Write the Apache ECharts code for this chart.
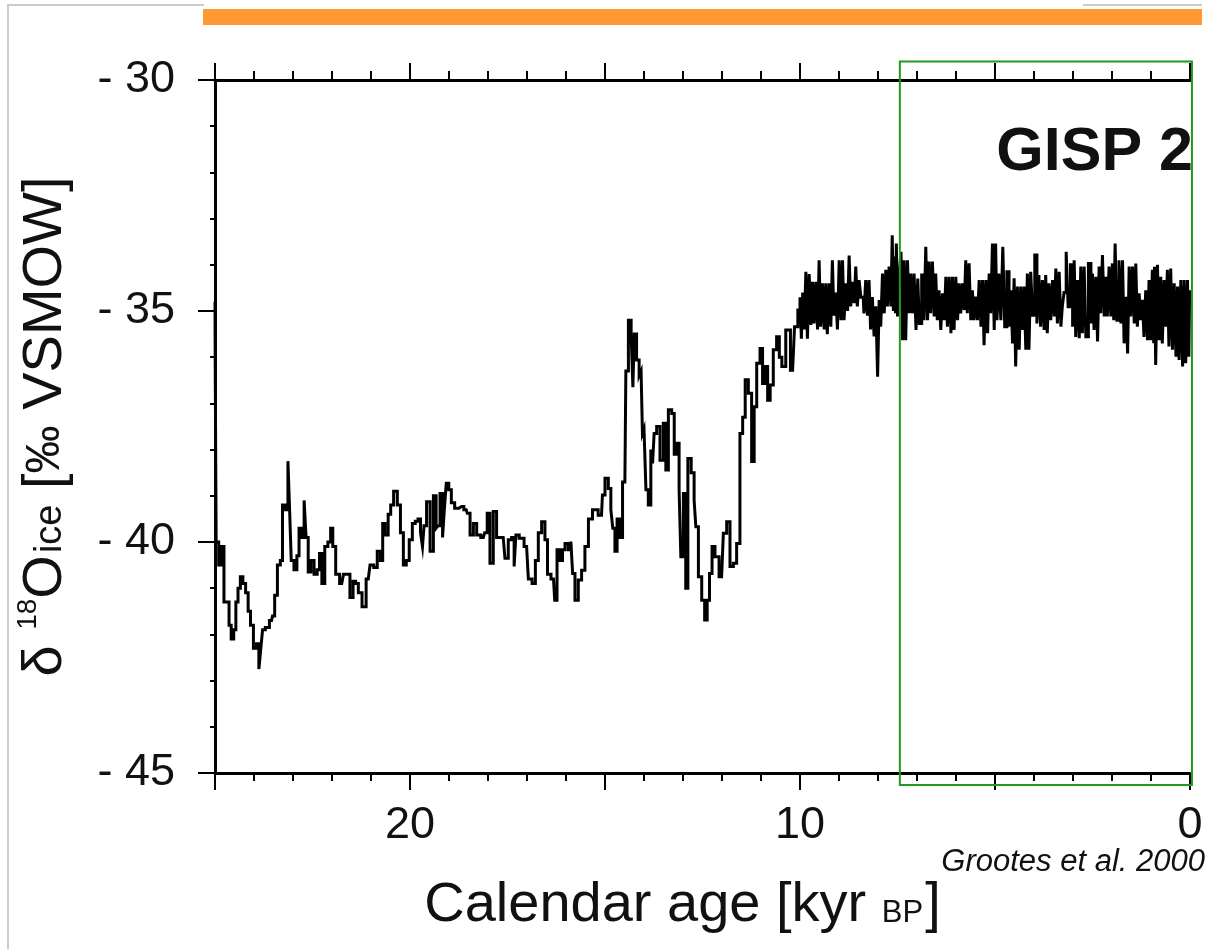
<!DOCTYPE html>
<html>
<head>
<meta charset="utf-8">
<title>GISP 2 δ18O</title>
<script src="https://cdn.jsdelivr.net/npm/echarts@6/dist/echarts.min.js"></script>
<style>
  html, body { margin: 0; padding: 0; background: #fff; }
  #chart { width: 1210px; height: 949px; }
</style>
</head>
<body>
<div id="chart"></div>
<script>
// axis ranges / ticks
const xMin = 0, xMax = 25;
const xLabelValues = [20, 10, 0];
const yMin = -45, yMax = -30;

// [age kyr BP, d18O permil]
const lastGlacial = [
  [25.00, -34.8], [24.99, -36.1], [24.95, -40.0], [24.86, -40.5], [24.80, -40.1],
  [24.74, -41.3], [24.66, -41.3], [24.62, -41.8], [24.55, -42.1], [24.49, -41.9],
  [24.44, -41.3], [24.38, -41.0], [24.32, -40.75], [24.25, -40.9], [24.18, -41.1],
  [24.12, -41.5], [24.06, -41.8], [23.97, -42.3], [23.90, -42.2], [23.85, -42.75],
  [23.80, -42.3], [23.76, -41.9], [23.66, -41.85], [23.55, -41.7], [23.50, -41.6],
  [23.44, -41.15], [23.36, -40.5], [23.29, -40.4], [23.25, -39.2], [23.16, -39.3],
  [23.10, -38.25], [23.07, -39.35], [23.02, -40.4], [22.93, -40.6], [22.87, -40.3],
  [22.82, -39.7], [22.74, -39.9], [22.69, -39.1], [22.64, -39.9], [22.58, -40.65],
  [22.50, -40.4], [22.42, -40.7], [22.34, -40.6], [22.30, -40.25], [22.22, -40.9],
  [22.15, -40.1], [22.06, -40.0], [22.01, -39.7], [21.95, -40.1], [21.86, -40.7],
  [21.75, -40.9], [21.66, -40.7], [21.58, -40.7], [21.50, -41.2], [21.42, -40.85],
  [21.37, -40.9], [21.28, -41.1], [21.18, -41.4], [21.07, -40.8], [20.98, -40.5],
  [20.88, -40.55], [20.80, -40.2], [20.72, -40.4], [20.68, -39.6], [20.60, -39.85],
  [20.52, -39.4], [20.47, -39.2], [20.37, -38.9], [20.28, -39.2], [20.21, -39.8],
  [20.13, -40.5], [20.06, -40.4], [19.98, -39.95], [19.90, -39.6], [19.83, -39.55],
  [19.76, -39.5], [19.70, -39.8], [19.66, -40.1], [19.62, -39.65], [19.53, -39.13],
  [19.44, -40.2], [19.36, -39.0], [19.30, -39.7], [19.27, -39.65], [19.19, -38.95],
  [19.14, -39.9], [19.10, -39.3], [19.04, -38.73], [18.97, -38.87], [18.91, -39.15],
  [18.80, -39.27], [18.68, -39.23], [18.56, -39.3], [18.50, -39.38], [18.42, -39.85],
  [18.33, -39.6], [18.25, -39.85], [18.12, -39.9], [18.05, -39.8], [17.99, -39.38],
  [17.91, -40.46], [17.82, -39.34], [17.74, -39.9], [17.61, -39.9], [17.52, -40.35],
  [17.44, -39.95], [17.35, -39.9], [17.31, -40.53], [17.26, -39.85], [17.14, -39.92],
  [17.01, -40.1], [16.92, -40.8], [16.82, -40.9], [16.75, -40.4], [16.67, -39.8],
  [16.58, -39.56], [16.50, -39.95], [16.45, -40.7], [16.32, -40.8], [16.26, -41.26],
  [16.20, -40.17], [16.11, -40.4], [16.07, -40.17], [15.98, -40.03], [15.90, -40.17],
  [15.85, -39.99], [15.81, -40.68], [15.73, -41.26], [15.64, -40.82], [15.56, -40.61],
  [15.47, -40.1], [15.38, -39.5], [15.26, -39.3], [15.09, -39.42], [15.04, -38.98],
  [14.96, -38.62], [14.87, -38.84], [14.83, -39.3], [14.77, -39.7], [14.72, -40.2]
];

const deglaciation = [
  [14.66, -39.5], [14.57, -39.9], [14.53, -38.7], [14.49, -38.7], [14.44, -36.3],
  [14.36, -35.2], [14.30, -35.5], [14.27, -36.65], [14.23, -35.5], [14.15, -36.06],
  [14.10, -36.4], [14.05, -36.3], [14.03, -37.65], [13.97, -37.55], [13.93, -38.87],
  [13.85, -39.2], [13.80, -38.0], [13.76, -38.3], [13.72, -37.65], [13.63, -37.5],
  [13.55, -38.23], [13.46, -37.43], [13.42, -38.44], [13.33, -37.14], [13.25, -37.22],
  [13.20, -38.1], [13.12, -37.86], [13.08, -38.87], [13.03, -40.32], [12.95, -38.95],
  [12.91, -41.0], [12.84, -38.19], [12.74, -38.5], [12.69, -39.1], [12.65, -39.67],
  [12.56, -40.75], [12.48, -41.26], [12.41, -41.69], [12.35, -41.26], [12.29, -40.68],
  [12.22, -40.1], [12.14, -40.32], [12.01, -40.75], [11.92, -39.81], [11.84, -39.56],
  [11.75, -40.53], [11.67, -40.46], [11.58, -40.03], [11.50, -37.65], [11.44, -37.3],
  [11.37, -36.49], [11.28, -36.78], [11.20, -38.26], [11.15, -37.07], [11.07, -36.13],
  [10.98, -35.81], [10.94, -36.57], [10.86, -36.2], [10.80, -36.93], [10.73, -36.6],
  [10.64, -35.84], [10.56, -35.56], [10.50, -36.0], [10.43, -36.2], [10.30, -35.41],
  [10.19, -36.28], [10.09, -35.34], [10.02, -34.98]
];

const earlyHolocene = [
  [9.98, -34.7], [9.95, -35.6], [9.91, -34.6], [9.87, -35.4], [9.83, -34.15], [9.79, -35.6],
  [9.74, -34.2], [9.70, -35.3], [9.66, -34.37], [9.62, -35.27], [9.57, -34.37], [9.53, -35.4],
  [9.49, -33.9], [9.45, -35.34], [9.40, -34.4], [9.36, -35.4], [9.32, -34.4], [9.28, -35.5],
  [9.23, -34.4], [9.19, -35.34], [9.15, -33.9], [9.11, -35.1], [9.06, -34.6], [9.02, -35.4],
  [8.97, -33.9], [8.93, -35.2], [8.89, -33.9], [8.85, -35.2], [8.80, -34.4], [8.76, -35.0],
  [8.72, -33.8], [8.68, -34.9], [8.63, -34.37], [8.59, -34.83], [8.55, -34.04], [8.51, -34.9],
  [8.46, -34.33], [8.42, -34.7], [8.38, -34.7], [8.34, -35.05], [8.29, -34.33], [8.25, -35.1],
  [8.21, -34.33], [8.17, -35.4], [8.12, -34.7], [8.08, -35.55], [8.03, -34.9], [7.99, -36.42],
  [7.95, -34.76], [7.91, -35.34], [7.86, -34.19], [7.82, -35.05], [7.78, -34.11], [7.74, -34.9],
  [7.69, -34.04], [7.65, -34.9], [7.62, -33.36], [7.59, -35.0], [7.56, -33.82], [7.54, -35.05],
  [7.52, -33.54], [7.48, -35.12], [7.43, -34.2], [7.39, -33.72], [7.35, -35.63], [7.31, -33.9],
  [7.27, -35.63], [7.22, -33.9], [7.18, -35.05], [7.14, -34.19], [7.10, -35.05], [7.05, -34.19],
  [7.00, -35.41], [6.96, -34.3], [6.92, -35.27], [6.84, -34.22], [6.80, -35.2], [6.75, -33.61],
  [6.71, -35.2], [6.67, -33.93], [6.63, -35.05], [6.58, -33.93], [6.54, -35.12], [6.50, -34.19],
  [6.46, -35.2], [6.41, -34.55], [6.37, -35.41], [6.32, -34.62], [6.28, -35.2], [6.24, -34.26],
  [6.20, -35.34], [6.15, -34.26], [6.11, -35.48], [6.07, -34.26], [6.03, -35.41], [5.98, -34.26],
  [5.94, -35.2], [5.90, -34.4], [5.86, -35.05], [5.81, -34.4], [5.77, -34.98], [5.73, -33.9],
  [5.69, -35.05], [5.64, -33.97], [5.60, -35.2], [5.56, -34.55], [5.52, -35.2], [5.47, -34.69],
  [5.43, -35.2], [5.38, -34.33], [5.34, -35.34], [5.30, -34.33], [5.26, -35.74], [5.21, -34.33],
  [5.17, -35.48], [5.13, -34.19], [5.09, -35.05], [5.04, -33.54], [5.00, -35.41]
];

const lateHolocene = [
  [4.97, -33.54], [4.93, -35.2], [4.87, -34.19], [4.83, -35.2], [4.77, -33.61], [4.73, -35.34],
  [4.66, -34.15], [4.62, -35.34], [4.57, -34.55], [4.53, -35.7], [4.49, -34.29], [4.45, -36.2],
  [4.40, -34.47], [4.36, -35.84], [4.32, -34.47], [4.28, -35.41], [4.23, -34.47], [4.19, -35.84],
  [4.15, -34.19], [4.11, -35.84], [4.06, -34.15], [4.01, -35.09], [3.95, -33.79], [3.90, -35.27],
  [3.85, -34.22], [3.81, -35.34], [3.76, -34.33], [3.72, -35.41], [3.68, -34.22], [3.64, -35.48],
  [3.59, -34.4], [3.55, -35.2], [3.50, -34.33], [3.46, -35.12], [3.42, -34.08], [3.38, -35.27],
  [3.33, -34.15], [3.29, -35.34], [3.26, -34.91], [3.20, -34.6], [3.15, -33.72], [3.10, -34.91],
  [3.03, -34.0], [2.99, -35.34], [2.95, -33.9], [2.91, -35.56], [2.86, -34.33], [2.82, -35.59],
  [2.78, -34.04], [2.74, -35.48], [2.69, -34.04], [2.65, -35.56], [2.56, -33.97], [2.52, -35.27],
  [2.48, -34.19], [2.44, -35.41], [2.39, -34.26], [2.35, -35.66], [2.31, -34.04], [2.27, -35.05],
  [2.22, -33.79], [2.18, -35.12], [2.14, -34.26], [2.10, -35.12], [2.05, -34.04], [2.01, -35.12],
  [1.97, -33.97], [1.94, -35.2], [1.90, -33.54], [1.85, -35.2], [1.79, -33.9], [1.75, -35.27],
  [1.71, -33.9], [1.67, -35.7], [1.62, -34.69], [1.58, -35.92], [1.54, -34.04], [1.50, -35.12],
  [1.45, -34.04], [1.41, -35.27], [1.37, -33.97], [1.33, -35.34], [1.28, -34.62], [1.24, -35.2],
  [1.20, -34.76], [1.16, -35.56], [1.11, -34.55], [1.07, -35.63], [1.03, -34.33], [0.99, -35.63],
  [0.94, -34.11], [0.92, -35.7], [0.90, -34.04], [0.86, -36.17], [0.81, -34.0], [0.77, -35.63],
  [0.73, -34.26], [0.69, -35.7], [0.64, -34.33], [0.60, -35.34], [0.56, -34.11], [0.52, -35.77],
  [0.47, -34.08], [0.43, -35.84], [0.38, -34.4], [0.34, -35.99], [0.30, -34.47], [0.26, -36.06],
  [0.21, -34.33], [0.17, -36.2], [0.13, -34.33], [0.09, -36.13], [0.04, -34.33], [0.02, -35.99],
  [0.00, -34.55]
];

// highlighted window (green frame), in data units
const highlightBox = { fromAge: 7.44, toAge: -0.05, top: -29.6, bottom: -45.26 };

const FONT = "'Liberation Sans', Arial, sans-serif";

const chart = echarts.init(document.getElementById('chart'));

function xAxisBase(position) {
  return {
    type: 'value',
    position: position,
    min: xMin,
    max: xMax,
    interval: 5,
    inverse: true,
    axisLine: { show: true, onZero: false, lineStyle: { color: '#000', width: 3 } },
    axisTick: { show: true, length: 17, lineStyle: { color: '#000', width: 2 } },
    minorTick: { show: true, splitNumber: 5, length: position === 'top' ? 9 : 8, lineStyle: { color: '#000', width: 2 } },
    splitLine: { show: false },
    minorSplitLine: { show: false }
  };
}

const option = {
  backgroundColor: '#fff',
  animation: false,
  grid: { left: 215, right: 20, top: 80, bottom: 176 },
  xAxis: [
    Object.assign(xAxisBase('bottom'), {
      axisLabel: {
        show: true,
        margin: 30,
        color: '#111',
        fontFamily: FONT,
        fontSize: 45,
        formatter: v => xLabelValues.includes(v) ? String(v) : ''
      },
      name: '{a|Calendar age [kyr }{b|BP}{a|]}',
      nameLocation: 'middle',
      nameGap: 101,
      nameTextStyle: {
        padding: [0, 40, 0, 0],
        rich: {
          a: { fontFamily: FONT, fontSize: 56, lineHeight: 64, color: '#111' },
          b: { fontFamily: FONT, fontSize: 31, lineHeight: 31, color: '#111', verticalAlign: 'bottom', padding: [0, 2, 9, 0] }
        }
      }
    }),
    Object.assign(xAxisBase('top'), { axisLabel: { show: false } })
  ],
  yAxis: {
    type: 'value',
    min: yMin,
    max: yMax,
    interval: 5,
    axisLine: { show: true, onZero: false, lineStyle: { color: '#000', width: 3 } },
    axisTick: { show: true, length: 17, lineStyle: { color: '#000', width: 2 } },
    minorTick: { show: true, splitNumber: 5, length: 5, lineStyle: { color: '#000', width: 2 } },
    splitLine: { show: false },
    axisLabel: {
      margin: 40,
      color: '#111',
      fontFamily: FONT,
      fontSize: 45,
      formatter: v => '- ' + Math.abs(v)
    },
    name: '{d|δ }{s|18}{d|O}{i|ice}{d| [}{p|‰}{d| VSMOW]}',
    nameLocation: 'middle',
    nameRotate: 90,
    nameGap: 137,
    nameTextStyle: {
      rich: {
        d: { fontFamily: FONT, fontSize: 56, lineHeight: 64, color: '#111' },
        s: { fontFamily: FONT, fontSize: 28, lineHeight: 28, color: '#111', verticalAlign: 'top' },
        i: { fontFamily: FONT, fontSize: 38, lineHeight: 38, color: '#111', verticalAlign: 'bottom', padding: [0, 0, 8, 2] },
        p: { fontFamily: FONT, fontSize: 48, lineHeight: 64, color: '#111' }
      }
    }
  },
  series: [{
    type: 'line',
    xAxisIndex: 0,
    data: lastGlacial.concat(deglaciation, earlyHolocene, lateHolocene),
    showSymbol: false,
    step: 'middle',
    silent: true,
    lineStyle: { color: '#000', width: 3, join: 'miter' }
  }]
};

chart.setOption(option);

// decorations: orange bar, faint frame, labels, green window
const tl = chart.convertToPixel({ xAxisIndex: 0, yAxisIndex: 0 }, [highlightBox.fromAge, highlightBox.top]);
const br = chart.convertToPixel({ xAxisIndex: 0, yAxisIndex: 0 }, [highlightBox.toAge, highlightBox.bottom]);

chart.setOption({
  graphic: [
    { type: 'rect', shape: { x: 203, y: 9, width: 999, height: 16 }, style: { fill: '#FF9933' }, silent: true },
    { type: 'polyline', shape: { points: [[8, 949], [8, 5], [204, 5]] }, style: { stroke: '#cccccc', lineWidth: 2, fill: null }, silent: true },
    { type: 'line', shape: { x1: 1083, y1: 5, x2: 1202, y2: 5 }, style: { stroke: '#cccccc', lineWidth: 2 }, silent: true },
    {
      type: 'rect',
      shape: { x: tl[0], y: tl[1], width: br[0] - tl[0], height: br[1] - tl[1] },
      style: { fill: null, stroke: '#1f9a1f', lineWidth: 2 },
      silent: true,
      z: 10
    },
    {
      type: 'text',
      style: {
        text: 'GISP 2', x: 1193, y: 153,
        align: 'right', verticalAlign: 'middle', textAlign: 'right', textVerticalAlign: 'middle',
        fontFamily: FONT, fontWeight: 'bold', fontSize: 61, fill: '#111'
      },
      silent: true
    },
    {
      type: 'text',
      style: {
        text: 'Grootes et al. 2000', x: 1205, y: 862,
        align: 'right', verticalAlign: 'middle', textAlign: 'right', textVerticalAlign: 'middle',
        fontFamily: FONT, fontStyle: 'italic', fontSize: 31, fill: '#111'
      },
      silent: true
    }
  ]
});
</script>
</body>
</html>
